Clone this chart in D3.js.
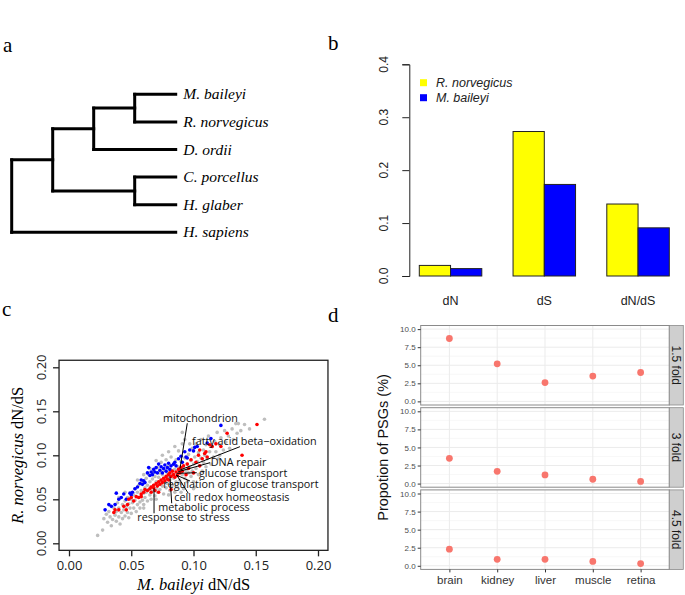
<!DOCTYPE html>
<html>
<head>
<meta charset="utf-8">
<script src="https://cdn.jsdelivr.net/npm/d3@7"></script>
<style>
  body { margin: 0; background: #fff; }
  svg { display: block; }
</style>
</head>
<body>
<div id="fig"></div>
<script>
// ---- panel a: species tree (x = node depth in branch units)
const tree_data = {
  x: 0, children: [
    { x: 1, children: [
      { x: 2, children: [
        { x: 3, children: [{ name: "M. baileyi", x: 4 }, { name: "R. norvegicus", x: 4 }] },
        { name: "D. ordii", x: 4 }
      ] },
      { x: 3, children: [{ name: "C. porcellus", x: 4 }, { name: "H. glaber", x: 4 }] }
    ] },
    { name: "H. sapiens", x: 4 }
  ]
};

// ---- panel b: mean rates
const rate_cats = ["dN", "dS", "dN/dS"];
const rate_species = ["R. norvegicus", "M. baileyi"];
const rate_norvegicus = [0.020, 0.273, 0.136];
const rate_baileyi = [0.014, 0.173, 0.091];
const rate_ticks = [0, 0.1, 0.2, 0.3, 0.4];
const rate_colors = ["#ffff00", "#0000ff"];

// ---- panel c: per-gene dN/dS, [M. baileyi, R. norvegicus]
const gray_pts = [
  [0.023,0.009],[0.027,0.015],[0.028,0.028],[0.030,0.033],[0.031,0.024],[0.032,0.036],[0.033,0.030],
  [0.034,0.020],[0.035,0.027],[0.036,0.040],[0.037,0.032],[0.038,0.025],[0.038,0.036],[0.039,0.046],
  [0.040,0.030],[0.040,0.040],[0.040,0.052],[0.041,0.022],[0.042,0.035],[0.043,0.044],[0.043,0.028],
  [0.044,0.038],[0.045,0.031],[0.045,0.048],[0.045,0.058],[0.046,0.042],[0.047,0.035],[0.047,0.052],
  [0.048,0.029],[0.048,0.045],[0.049,0.040],[0.050,0.050],[0.050,0.034],[0.051,0.046],[0.052,0.055],
  [0.052,0.040],[0.053,0.062],[0.053,0.049],[0.054,0.036],[0.055,0.044],[0.055,0.058],[0.055,0.072],
  [0.056,0.052],[0.056,0.066],[0.057,0.047],[0.057,0.040],[0.058,0.060],[0.058,0.054],[0.059,0.049],
  [0.059,0.070],[0.060,0.057],[0.060,0.044],[0.060,0.040],[0.060,0.078],[0.061,0.063],[0.061,0.052],
  [0.062,0.074],[0.062,0.058],[0.063,0.048],[0.063,0.066],[0.064,0.061],[0.064,0.078],[0.065,0.055],
  [0.065,0.070],[0.065,0.085],[0.066,0.064],[0.066,0.050],[0.067,0.073],[0.067,0.059],[0.068,0.081],
  [0.068,0.066],[0.069,0.054],[0.069,0.076],[0.070,0.062],[0.070,0.070],[0.070,0.050],[0.070,0.094],
  [0.071,0.086],[0.071,0.058],[0.072,0.067],[0.072,0.075],[0.073,0.080],[0.073,0.061],[0.074,0.071],
  [0.074,0.092],[0.075,0.065],[0.075,0.078],[0.075,0.100],[0.076,0.056],[0.076,0.084],[0.077,0.070],
  [0.077,0.074],[0.078,0.063],[0.078,0.095],[0.079,0.080],[0.079,0.068],[0.080,0.076],[0.080,0.088],
  [0.080,0.055],[0.080,0.104],[0.081,0.060],[0.081,0.072],[0.082,0.083],[0.082,0.098],[0.083,0.066],
  [0.083,0.078],[0.084,0.090],[0.084,0.074],[0.085,0.058],[0.085,0.084],[0.085,0.110],[0.086,0.070],
  [0.086,0.095],[0.087,0.079],[0.087,0.064],[0.088,0.087],[0.088,0.105],[0.089,0.072],[0.089,0.082],
  [0.090,0.093],[0.090,0.068],[0.090,0.058],[0.091,0.078],[0.091,0.113],[0.091,0.126],[0.092,0.086],
  [0.092,0.062],[0.093,0.097],[0.093,0.074],[0.093,0.118],[0.094,0.083],[0.095,0.090],[0.095,0.070],
  [0.096,0.101],[0.096,0.080],[0.097,0.087],[0.097,0.113],[0.098,0.076],[0.098,0.094],[0.099,0.108],
  [0.099,0.082],[0.100,0.090],[0.100,0.070],[0.100,0.062],[0.101,0.064],[0.101,0.098],[0.102,0.085],
  [0.102,0.113],[0.103,0.093],[0.104,0.078],[0.104,0.103],[0.105,0.088],[0.106,0.097],[0.106,0.118],
  [0.107,0.082],[0.108,0.106],[0.108,0.092],[0.109,0.100],[0.110,0.087],[0.110,0.112],[0.111,0.096],
  [0.112,0.122],[0.113,0.104],[0.114,0.090],[0.115,0.110],[0.116,0.098],[0.117,0.116],[0.118,0.104],
  [0.119,0.126],[0.120,0.096],[0.121,0.100],[0.121,0.112],[0.122,0.120],[0.124,0.106],[0.125,0.128],
  [0.126,0.115],[0.128,0.122],[0.129,0.108],[0.131,0.130],[0.132,0.118],[0.134,0.136],[0.135,0.125],
  [0.136,0.136],[0.138,0.128],[0.141,0.135],[0.145,0.130],[0.157,0.141]
];
const blue_pts = [
  [0.029,0.038],[0.032,0.044],[0.034,0.042],[0.037,0.044],[0.038,0.057],[0.040,0.050],[0.042,0.052],
  [0.044,0.056],[0.046,0.050],[0.049,0.057],[0.050,0.055],[0.051,0.058],[0.053,0.062],[0.055,0.064],
  [0.057,0.068],[0.058,0.072],[0.059,0.067],[0.060,0.071],[0.061,0.069],[0.063,0.080],[0.064,0.086],
  [0.065,0.077],[0.066,0.081],[0.067,0.078],[0.068,0.084],[0.069,0.081],[0.070,0.086],[0.071,0.080],
  [0.072,0.090],[0.073,0.083],[0.074,0.087],[0.075,0.080],[0.076,0.085],[0.077,0.089],[0.078,0.082],
  [0.079,0.086],[0.080,0.091],[0.081,0.084],[0.082,0.088],[0.084,0.090],[0.085,0.092],[0.086,0.088],
  [0.088,0.096],[0.090,0.099],[0.091,0.092],[0.093,0.104],[0.094,0.098],[0.095,0.097],[0.097,0.106],
  [0.100,0.105],[0.101,0.109],[0.103,0.110],[0.111,0.114],[0.114,0.119],[0.122,0.134]
];
const red_pts = [
  [0.036,0.035],[0.037,0.038],[0.040,0.038],[0.044,0.042],[0.046,0.038],[0.047,0.044],[0.048,0.050],
  [0.050,0.052],[0.052,0.048],[0.054,0.053],[0.056,0.052],[0.058,0.053],[0.058,0.056],[0.060,0.058],
  [0.061,0.061],[0.063,0.060],[0.065,0.062],[0.066,0.064],[0.066,0.058],[0.068,0.063],[0.068,0.066],
  [0.069,0.060],[0.070,0.068],[0.071,0.065],[0.072,0.070],[0.072,0.058],[0.073,0.067],[0.074,0.072],
  [0.075,0.069],[0.076,0.074],[0.077,0.071],[0.078,0.076],[0.079,0.073],[0.080,0.078],[0.080,0.072],
  [0.081,0.080],[0.082,0.076],[0.082,0.061],[0.083,0.082],[0.084,0.078],[0.085,0.075],[0.086,0.081],
  [0.087,0.077],[0.088,0.084],[0.089,0.080],[0.090,0.086],[0.091,0.082],[0.092,0.088],[0.094,0.078],
  [0.095,0.090],[0.096,0.085],[0.098,0.095],[0.100,0.080],[0.102,0.092],[0.104,0.100],[0.105,0.088],
  [0.105,0.106],[0.107,0.096],[0.109,0.102],[0.110,0.104],[0.111,0.098],[0.113,0.112],[0.115,0.110],
  [0.118,0.113],[0.122,0.110],[0.127,0.125],[0.139,0.100],[0.151,0.135]
];
const scatter_ticks = [0, 0.05, 0.1, 0.15, 0.2];
// GO term labels: text anchor (tx,ty) and leader line (x1,y1)->(x2,y2), in data units
const go_labels = [
  { text: "mitochondrion", tx: 0.0755, ty: 0.1427, x1: 0.0950, y1: 0.1364, x2: 0.0892, y2: 0.0852 },
  { text: "fatty acid beta\u2212oxidation", tx: 0.0988, ty: 0.1163, x1: 0.1373, y1: 0.1098, x2: 0.0892, y2: 0.0833 },
  { text: "DNA repair", tx: 0.1138, ty: 0.0916, x1: 0.1133, y1: 0.0916, x2: 0.0878, y2: 0.0814 },
  { text: "glucose transport", tx: 0.1044, ty: 0.0795, x1: 0.1026, y1: 0.0802, x2: 0.0865, y2: 0.0795 },
  { text: "regulation of glucose transport", tx: 0.0757, ty: 0.0670, x1: 0.0972, y1: 0.0708, x2: 0.0859, y2: 0.0776 },
  { text: "cell redox homeostasis", tx: 0.0846, ty: 0.0523, x1: 0.0958, y1: 0.0568, x2: 0.0865, y2: 0.0776 },
  { text: "metabolic process", tx: 0.0717, ty: 0.0409, x1: 0.0825, y1: 0.0455, x2: 0.0811, y2: 0.0757 },
  { text: "response to stress", tx: 0.0549, ty: 0.0291, x1: 0.0683, y1: 0.0341, x2: 0.0683, y2: 0.0625 }
];

// ---- panel d: proportion of PSGs per tissue
const tissues = ["brain", "kidney", "liver", "muscle", "retina"];
const folds = ["1.5 fold", "3 fold", "4.5 fold"];
const psg_15 = [8.7, 5.2, 2.6, 3.5, 4.0];
const psg_3 = [3.5, 1.7, 1.2, 0.6, 0.3];
const psg_45 = [2.3, 0.9, 0.9, 0.6, 0.3];
const psg_ticks = [0, 2.5, 5, 7.5, 10];

const W = 685, H = 595;
const serif = "'Liberation Serif', 'DejaVu Serif', serif";
const sans = "'Liberation Sans', Arial, sans-serif";
const myriad = "'Open Sans', 'Noto Sans', sans-serif";

const svg = d3.select("#fig").append("svg").attr("width", W).attr("height", H);

function panelLetter(txt, x, y) {
  svg.append("text").attr("x", x).attr("y", y)
    .attr("font-family", serif).attr("font-size", 21).text(txt);
}

// ================= a =================
function drawTree() {
  const g = svg.append("g");
  const root = d3.hierarchy(tree_data);
  const leaves = root.leaves();
  const xs = d3.scaleLinear().domain([0, 4]).range([11.7, 175.7]);
  const ys = d3.scalePoint().domain(leaves.map((d) => d.data.name)).range([94.3, 232.3]);

  root.eachAfter((d) => {
    d.px = xs(d.data.x);
    if (!d.children) d.py = ys(d.data.name);
    else d.py = (d.children[0].py + d.children[d.children.length - 1].py) / 2;
  });

  const segs = [];
  root.each((d) => {
    if (d.children) {
      const c = d.children;
      segs.push([d.px, c[0].py, d.px, c[c.length - 1].py]);
      c.forEach((k) => segs.push([d.px, k.py, k.px, k.py]));
    }
  });

  g.selectAll("line").data(segs).enter().append("line")
    .attr("x1", (d) => d[0]).attr("y1", (d) => d[1])
    .attr("x2", (d) => d[2]).attr("y2", (d) => d[3])
    .attr("stroke", "#000").attr("stroke-width", 3).attr("stroke-linecap", "square");

  g.selectAll("text").data(leaves).enter().append("text")
    .attr("x", (d) => d.px + 7.6).attr("y", (d) => d.py)
    .attr("dy", "0.33em")
    .attr("font-family", serif).attr("font-style", "italic").attr("font-size", 15.5)
    .text((d) => d.data.name);
}

// ================= b =================
function drawBars() {
  const g = svg.append("g");
  const x0 = d3.scaleBand().domain(rate_cats).range([388.05, 669.3])
    .paddingInner(1 / 3).paddingOuter(1 / 6).align(1);
  const x1 = d3.scaleBand().domain(rate_species).range([0, x0.bandwidth()]);
  const y = d3.scaleLinear().domain([0, 0.4]).range([276, 64.3]);

  const rows = rate_cats.map((c, i) => ({ cat: c, vals: [rate_norvegicus[i], rate_baileyi[i]] }));

  g.selectAll("g.grp").data(rows).enter().append("g")
    .attr("transform", (d) => `translate(${x0(d.cat)},0)`)
    .selectAll("rect")
    .data((d) => d.vals.map((v, j) => ({ sp: rate_species[j], v, j })))
    .enter().append("rect")
    .attr("x", (d) => x1(d.sp)).attr("width", x1.bandwidth())
    .attr("y", (d) => y(d.v)).attr("height", (d) => y(0) - y(d.v))
    .attr("fill", (d) => rate_colors[d.j]).attr("stroke", "#222").attr("stroke-width", 1);

  const ax = g.append("g").attr("transform", "translate(409.3,0)")
    .call(d3.axisLeft(y).tickValues(rate_ticks).tickFormat(d3.format(".1f")).tickSize(7).tickPadding(0));
  ax.select(".domain").attr("stroke", "#222");
  ax.selectAll(".tick line").attr("stroke", "#222");
  ax.selectAll(".tick text").remove();
  g.selectAll("text.ytl").data(rate_ticks).enter().append("text")
    .attr("transform", (d) => `translate(388,${y(d)}) rotate(-90)`)
    .attr("text-anchor", "middle")
    .attr("font-family", sans).attr("font-size", 12).attr("fill", "#222")
    .text((d) => d3.format(".1f")(d));

  g.selectAll("text.cat").data(rate_cats).enter().append("text")
    .attr("x", (d) => x0(d) + x0.bandwidth() / 2).attr("y", 305)
    .attr("text-anchor", "middle")
    .attr("font-family", sans).attr("font-size", 12.5).attr("fill", "#222")
    .text((d) => d);

  const leg = g.selectAll("g.leg").data(rate_species).enter().append("g")
    .attr("transform", (d, i) => `translate(423.5,${82.7 + i * 15})`);
  leg.append("rect").attr("x", -3.5).attr("y", -3.5).attr("width", 7).attr("height", 7)
    .attr("fill", (d, i) => rate_colors[i]);
  leg.append("text").attr("x", 12.5).attr("y", 0).attr("dy", "0.35em")
    .attr("font-family", sans).attr("font-style", "italic").attr("font-size", 12.5).attr("fill", "#222")
    .text((d) => d);
}

// ================= c =================
function drawScatter() {
  const g = svg.append("g");
  const x = d3.scaleLinear().domain([0, 0.2]).range([69, 318]);
  const y = d3.scaleLinear().domain([0, 0.2]).range([543.3, 367.3]);

  const groups = [[gray_pts, "#bebebe"], [blue_pts, "#0000ff"], [red_pts, "#ff0000"]];
  groups.forEach(([pts, col]) => {
    g.append("g").selectAll("circle").data(pts).enter().append("circle")
      .attr("cx", (d) => x(d[0])).attr("cy", (d) => y(d[1])).attr("r", 1.8)
      .attr("fill", col);
  });

  g.append("g").selectAll("line").data(go_labels).enter().append("line")
    .attr("x1", (d) => x(d.x1)).attr("y1", (d) => y(d.y1))
    .attr("x2", (d) => x(d.x2)).attr("y2", (d) => y(d.y2))
    .attr("stroke", "#000").attr("stroke-width", 1);

  g.append("g").selectAll("text").data(go_labels).enter().append("text")
    .attr("x", (d) => x(d.tx)).attr("y", (d) => y(d.ty)).attr("dy", "0.35em")
    .attr("font-family", myriad).attr("font-size", 10.8).attr("fill", "#111")
    .text((d) => d.text);

  // R style box, ticks outside
  const bx0 = x(-0.008), bx1 = x(0.208), by0 = y(0.208), by1 = y(-0.008);
  g.append("rect").attr("x", bx0).attr("y", by0).attr("width", bx1 - bx0).attr("height", by1 - by0)
    .attr("fill", "none").attr("stroke", "#222").attr("stroke-width", 1.3);

  const ax = g.append("g").attr("transform", `translate(0,${by1})`)
    .call(d3.axisBottom(x).tickValues(scatter_ticks).tickFormat(d3.format(".2f")).tickSize(6).tickPadding(4));
  ax.select(".domain").remove();
  ax.selectAll(".tick line").attr("stroke", "#222").attr("stroke-width", 1.3);
  ax.selectAll(".tick text").attr("font-family", myriad).attr("font-size", 13).attr("fill", "#222");

  const ay = g.append("g").attr("transform", `translate(${bx0},0)`)
    .call(d3.axisLeft(y).tickValues(scatter_ticks).tickSize(6));
  ay.select(".domain").remove();
  ay.selectAll(".tick line").attr("stroke", "#222").attr("stroke-width", 1.3);
  ay.selectAll(".tick text").remove();
  g.selectAll("text.ytl").data(scatter_ticks).enter().append("text")
    .attr("transform", (d) => `translate(46,${y(d)}) rotate(-90)`)
    .attr("text-anchor", "middle")
    .attr("font-family", myriad).attr("font-size", 13).attr("fill", "#222")
    .text((d) => d3.format(".2f")(d));

  const xt = g.append("text").attr("x", (bx0 + bx1) / 2).attr("y", 590)
    .attr("text-anchor", "middle").attr("font-family", serif).attr("font-size", 16.5);
  xt.append("tspan").attr("font-style", "italic").text("M. baileyi");
  xt.append("tspan").text(" dN/dS");

  const yt = g.append("text").attr("transform", `translate(23,${(by0 + by1) / 2}) rotate(-90)`)
    .attr("text-anchor", "middle").attr("font-family", serif).attr("font-size", 16.5);
  yt.append("tspan").attr("font-style", "italic").text("R. norvegicus");
  yt.append("tspan").text(" dN/dS");
}

// ================= d =================
function drawFacets() {
  const g = svg.append("g");
  const left = 420.7, right = 669.3, stripW = 14;
  const top0 = 325.5, ph = 79.5, gap = 2.7;
  const x = d3.scalePoint().domain(tissues).range([left, right]).padding(0.6);
  const series = [psg_15, psg_3, psg_45];

  folds.forEach((f, k) => {
    const t = top0 + k * (ph + gap);
    const y = d3.scaleLinear().domain([-0.5, 10.5]).range([t + ph, t]);
    const p = g.append("g");

    p.append("rect").attr("x", left).attr("y", t).attr("width", right - left).attr("height", ph)
      .attr("fill", "#fff");
    // minor + major grid
    const minor = [1.25, 3.75, 6.25, 8.75];
    p.selectAll("line.mn").data(minor).enter().append("line")
      .attr("x1", left).attr("x2", right).attr("y1", (d) => y(d)).attr("y2", (d) => y(d))
      .attr("stroke", "#f2f2f2").attr("stroke-width", 0.6);
    p.selectAll("line.mj").data(psg_ticks).enter().append("line")
      .attr("x1", left).attr("x2", right).attr("y1", (d) => y(d)).attr("y2", (d) => y(d))
      .attr("stroke", "#ebebeb").attr("stroke-width", 1);
    p.selectAll("line.vg").data(tissues).enter().append("line")
      .attr("x1", (d) => x(d)).attr("x2", (d) => x(d)).attr("y1", t).attr("y2", t + ph)
      .attr("stroke", "#ebebeb").attr("stroke-width", 1);

    p.selectAll("circle").data(series[k]).enter().append("circle")
      .attr("cx", (d, i) => x(tissues[i])).attr("cy", (d) => y(d)).attr("r", 3.4)
      .attr("fill", "#f8766d");

    p.append("rect").attr("x", left).attr("y", t).attr("width", right - left).attr("height", ph)
      .attr("fill", "none").attr("stroke", "#8a8a8a").attr("stroke-width", 1);

    // strip
    p.append("rect").attr("x", right).attr("y", t).attr("width", stripW).attr("height", ph)
      .attr("fill", "#cfcfcf").attr("stroke", "#8a8a8a").attr("stroke-width", 0.8);
    p.append("text").attr("transform", `translate(${right + stripW / 2},${t + ph / 2}) rotate(90)`)
      .attr("text-anchor", "middle").attr("dy", "0.35em")
      .attr("font-family", sans).attr("font-size", 12).attr("fill", "#1a1a1a")
      .text(f);

    const ay = p.append("g").attr("transform", `translate(${left},0)`)
      .call(d3.axisLeft(y).tickValues(psg_ticks).tickFormat(d3.format(".1f")).tickSize(3).tickPadding(2));
    ay.select(".domain").remove();
    ay.selectAll(".tick line").attr("stroke", "#333");
    ay.selectAll(".tick text").attr("font-family", sans).attr("font-size", 8).attr("fill", "#4d4d4d");

    if (k === folds.length - 1) {
      const ax = p.append("g").attr("transform", `translate(0,${t + ph})`)
        .call(d3.axisBottom(x).tickSize(3).tickPadding(3));
      ax.select(".domain").remove();
      ax.selectAll(".tick line").attr("stroke", "#333");
      ax.selectAll(".tick text").attr("font-family", sans).attr("font-size", 11.5).attr("fill", "#333");
    }
  });

  const midY = top0 + (3 * ph + 2 * gap) / 2;
  g.append("text").attr("transform", `translate(388,${midY}) rotate(-90)`)
    .attr("text-anchor", "middle")
    .attr("font-family", sans).attr("font-size", 14.5).attr("fill", "#111")
    .text("Propotion of PSGs (%)");
}

drawTree();
drawBars();
drawScatter();
drawFacets();
panelLetter("a", 3, 52);
panelLetter("b", 328, 50);
panelLetter("c", 2, 316);
panelLetter("d", 328, 322);
</script>
</body>
</html>
